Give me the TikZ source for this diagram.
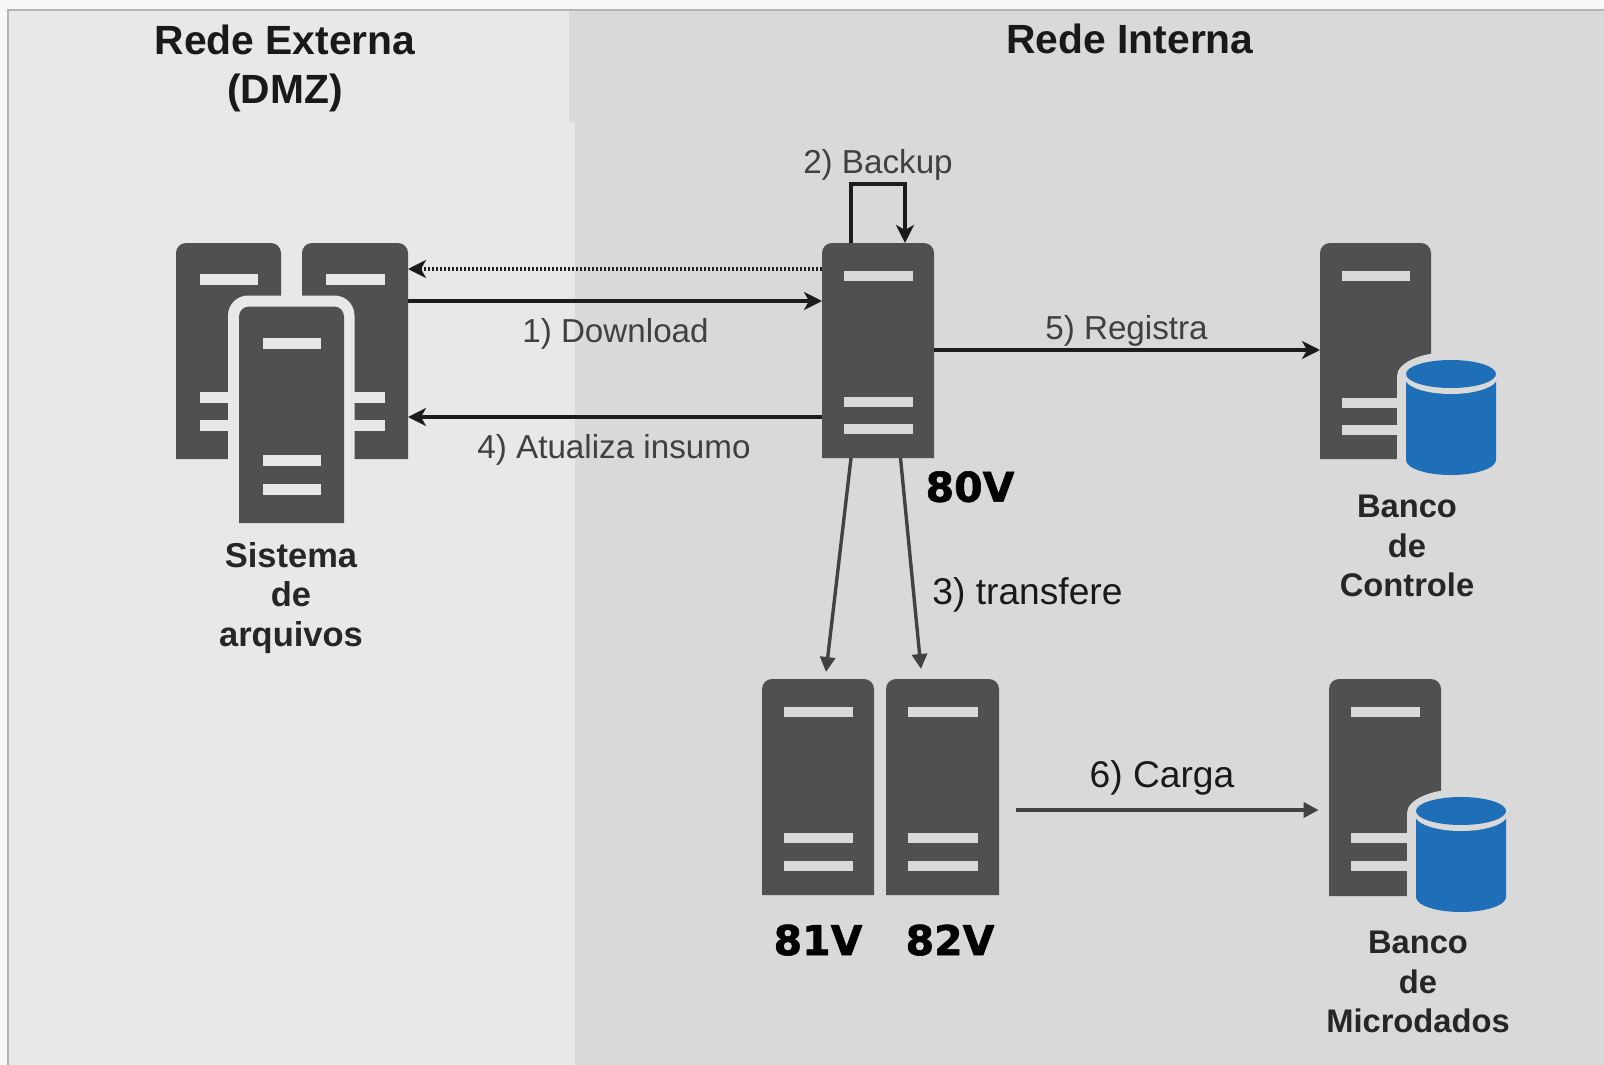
\documentclass[tikz,border=0pt]{standalone}
\usepackage{fontspec}
\setmainfont{Liberation Sans}
\newfontfamily\heavyfont{DejaVu Sans}[BoldFeatures={FakeBold=1.4}]
\usetikzlibrary{arrows.meta}
\definecolor{pagebg}{HTML}{F7F7F7}
\definecolor{framec}{HTML}{B4B4B4}
\definecolor{extbg}{HTML}{E8E8E8}
\definecolor{intbg}{HTML}{D9D9D9}
\definecolor{srvc}{HTML}{505050}
\definecolor{dbblue}{HTML}{1F6FB8}
\definecolor{lblc}{HTML}{404040}
\definecolor{darkline}{HTML}{1C1C1C}
\definecolor{greyline}{HTML}{424242}
\tikzset{
  x=1pt,y=-1pt,
  srvnode/.style={rectangle,inner sep=0pt,outer sep=0pt},
  title/.style={font=\fontsize{40.8}{49}\selectfont\bfseries,text=black!90,align=center,inner sep=0pt},
  flow/.style={font=\fontsize{33.2}{40}\selectfont,text=lblc,inner sep=0pt,anchor=base},
  flowdark/.style={font=\fontsize{37.2}{40}\selectfont,text=black!90,inner sep=0pt,anchor=base},
  hostname/.style={font=\heavyfont\fontsize{41}{45}\selectfont\bfseries,text=black,inner sep=0pt,anchor=base},
  caption/.style={font=\fontsize{32.7}{39.6}\selectfont\bfseries,text=black!85,align=center,inner sep=0pt},
  captionbig/.style={caption,font=\fontsize{34.5}{39.6}\selectfont\bfseries},
  thick link/.style={draw=darkline,line width=3.3pt,-{Stealth[length=18pt,width=18pt,inset=5pt]}},
  dotted link/.style={thick link,dash pattern=on 2.4pt off 1.6pt,line width=3.6pt},
  grey link/.style={draw=greyline,line width=3.4pt,-{Triangle[length=15pt,width=15pt]}},
}
% name, x1, y1, x2, y2, bar colour, list of bar tops, bar height, bar inset
\newcommand{\srvbox}[9]{%
  \fill[srvc] [sharp corners] (#2,#5) [rounded corners=10pt] -- (#2,#3) -- (#4,#3) [sharp corners] -- (#4,#5) -- cycle;
  \foreach \by in {#7}{\fill[#6] ({#2+#9},\by) rectangle ({#4-#9},{\by+#8});}
  \node[srvnode,minimum width={(#4-#2)*1pt},minimum height={(#5-#3)*1pt}] (#1) at ({(#2+#4)/2},{(#3+#5)/2}) {};
}
% name, cylinder left, cylinder top
\newcommand{\dbcyl}[3]{%
  \fill[intbg] ({#2+45},{#3+16}) ellipse[x radius=54,y radius=24];
  \fill[intbg] ({#2-9},{#3+16}) rectangle ({#2+99},{#3+125});
  \fill[dbblue] (#2,{#3+14}) -- (#2,{#3+100}) arc[start angle=180,end angle=360,x radius=45,y radius=-15] -- ({#2+90},{#3+14}) -- cycle;
  \fill[intbg] ({#2+45},{#3+17.5}) ellipse[x radius=46.5,y radius=16.5];
  \fill[dbblue] ({#2+45},{#3+14}) ellipse[x radius=45,y radius=14];
  \node[srvnode,minimum width=90pt,minimum height=115pt] (#1) at ({#2+45},{#3+57.5}) {};
}
\begin{document}
\begin{tikzpicture}
\useasboundingbox (0,0) rectangle (1604,1065);
% backgrounds
\fill[pagebg] (0,0) rectangle (1604,1065);
\fill[extbg] (8,10) rectangle (1604,1065);
\fill[intbg] (569,10) -- (1604,10) -- (1604,1065) -- (575,1065) -- (575,122) -- (569,122) -- cycle;
\draw[framec,line width=1.6pt] (8,1065) -- (8,10) -- (1604,10);

% titles
\node[title] (tExt) at (285,68) {Rede Externa\\(DMZ)};
\node[title,anchor=base] (tInt) at (1130,53.4) {Rede Interna};

% file system cluster
\srvbox{srvA}{176}{243}{281}{459}{extbg}{274,391.5,420}{11}{23.5}
\srvbox{srvB}{302}{243}{408}{459}{extbg}{274,391.5,420}{11}{23.5}
\fill[extbg] (228,530) [rounded corners=20pt] -- (228,295.5) -- (354.5,295.5) [sharp corners] -- (354.5,530) -- cycle;
\srvbox{srvC}{239}{306.5}{344}{523}{extbg}{338,455,484}{11}{23.5}
\node[captionbig] (capFS) at (291,598) {Sistema\\de\\arquivos};

% main server
\srvbox{srv80}{822}{243}{934}{458}{intbg}{271,397,424}{9.5}{21.5}
\node[hostname] (l80) at (970,501.7) {80V};

% controle DB
\srvbox{srvCtl}{1320}{243}{1431}{459}{intbg}{271,398,425}{9.5}{21.5}
\dbcyl{dbCtl}{1406}{360}
\node[caption] (capCtl) at (1407,546) {Banco\\de\\Controle};

% workers
\srvbox{srv81}{762}{679}{874}{895}{intbg}{707,833,861}{9.5}{21.5}
\srvbox{srv82}{886}{679}{999}{895}{intbg}{707,833,861}{9.5}{21.5}
\node[hostname] (l81) at (818,955) {81V};
\node[hostname] (l82) at (950,955) {82V};

% microdados DB
\srvbox{srvMic}{1329}{679}{1441}{896}{intbg}{707,833,861}{9.5}{21.5}
\dbcyl{dbMic}{1416}{797}
\node[caption] (capMic) at (1418,982) {Banco\\de\\Microdados};

% named free ends
\coordinate (t81) at (826,672);
\coordinate (t82) at (921,669);
\coordinate (s6) at (1015.5,810);
\coordinate (t6) at (1318.6,810);

% connectors
\draw[dotted link] (srv80.west |- 0,269) -- (srvB.east |- 0,269);
\draw[thick link] (srvB.east |- 0,301) -- (srv80.west |- 0,301);
\draw[thick link] (srv80.west |- 0,417) -- (srvB.east |- 0,417);
\draw[thick link] (srv80.east |- 0,350) -- (srvCtl.west |- 0,350);
\draw[thick link] (srv80.north -| 851,0) -- (851,184) -- (905,184) -- (srv80.north -| 905,0);
\draw[grey link] (srv80.south -| 851,0) -- (t81);
\draw[grey link] (srv80.south -| 900.5,0) -- (t82);
\draw[grey link] (s6) -- (t6);

% flow labels
\node[flow] (f1) at (615.5,342.6) {1) Download};
\node[flow] (f2) at (878,173.3) {2) Backup};
\node[flowdark] (f3) at (1027.5,604) {3) transfere};
\node[flow] (f4) at (614,458.7) {4) Atualiza insumo};
\node[flow] (f5) at (1126.5,339) {5) Registra};
\node[flowdark] (f6) at (1162,787) {6) Carga};
\end{tikzpicture}
\end{document}
